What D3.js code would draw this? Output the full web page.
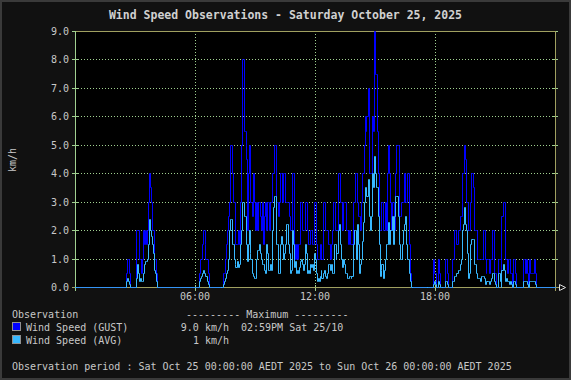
<!DOCTYPE html>
<html><head><meta charset="utf-8">
<script src="https://cdn.jsdelivr.net/npm/d3@7"></script>
<style>html,body{margin:0;padding:0;background:#111;}svg{display:block;}</style>
</head><body>
<script>
// ---- data ----
const titleText = "Wind Speed Observations - Saturday October 25, 2025";
const yUnit = "km/h";
const yTicks = [0,1,2,3,4,5,6,7,8,9];
const xTickHours = [6,12,18];
const xTickLabels = ["06:00","12:00","18:00"];
const stepMinutes = 3;
// 3-minute samples from 00:00 (480 values, 20 per row = 1 hour)
const gust = [
 0,0,0,0,0,0,0,0,0,0,0,0,0,0,0,0,0,0,0,0,
 0,0,0,0,0,0,0,0,0,0,0,0,0,0,0,0,0,0,0,0,
 0,0,0,0,0,0,0,0,0,0,0,0.5,1,1,0.5,0,0,0,0,0,
 0,2,2,2,1,1,0.5,1,2,1.5,2,1.5,2,3,4,3.5,3,2,2,1,
 1,0.5,0,0,0,0,0,0,0,0,0,0,0,0,0,0,0,0,0,0,
 0,0,0,0,0,0,0,0,0,0,0,0,0,0,0,0,0,0,0,0,
 0,0,0,0,0.5,1,1,1.5,2,2,1.5,1,1,0.5,0,0,0,0,0,0,
 0,0,0,0,0,0,0,0,0.5,0.5,1,1.5,2,2.5,3,5,5,4,3,3,
 2,1.5,1.5,2,1.5,3,5,8,8,5.5,5.5,4.5,2,4,5,3,3,2.5,4,3,
 2,3,2,3,3,2.5,2,3,1.5,2.5,3,2,3,3,2,3,3,4,4,5,
 5,3,3,2.5,3,4,4,3,4,4,3,3,3,3,2.5,2,2,4,4,1.5,
 1,1.5,1,1.5,1.5,3,3,2,2,2,3,3,2,1.5,1.5,2,2,1.5,1.5,3,
 3,1.5,1,1,1,1.5,1.5,1,3,3,2,2,2,1.5,1.5,1,1.5,2,3,3,
 2,2,2,4,4,3,3,2,3,3,3,2,2,1.5,2,1.5,1.5,1.5,3,3,
 4,4,3,2.5,2.5,2,3,4,4,5,6,5.5,6,7,4,4,4,6,5.5,9,
 7.5,7.5,5.5,4,2,2,2,3,2,2,3,2,4,5,4,3,2,3,3,2,
 4,4,5,5,2.5,2.5,3,3,3,4,3,3,4,4,1.5,0.5,0,0,0,0,
 0,0,0,0,0,0,0,0,0,0,0,0,0,0,0,0,0,0,1,0.5,
 0.5,0,0,1,0.5,0,0,0,0,0,1,1,0.5,0,0,0,0,1,1,2,
 2,1.5,1.5,2,2,2.5,2.5,4,4,5,4.5,3,3,2,2,3,3,4,3.5,2,
 2,2,1,1,1,1,1,1,2,2,1,0.5,1,1,0.5,1,1,2,2,0.5,
 0.5,0,0,1,1,1,0.5,2.5,3,3,1,1,0.5,1,1,0.5,0.5,0,1,1,
 0.5,0,0,0,0,0,0,0,1,1,0.5,1,0.5,0,1,0.5,0.5,0.5,0.5,1,
 0.5,0,0,0,0,0,0,0,0,0,0,0,0,0,0,0,0,0,0,0
];
const avg = [
 0,0,0,0,0,0,0,0,0,0,0,0,0,0,0,0,0,0,0,0,
 0,0,0,0,0,0,0,0,0,0,0,0,0,0,0,0,0,0,0,0,
 0,0,0,0,0,0,0,0,0,0,0,0.2,0.3,0.2,0.1,0,0,0,0,0,
 0,0.3,0.8,0.5,0.2,0.3,0.2,0.2,0.5,0.8,0.9,0.9,1.0,1.5,2.4,2.0,1.8,1.5,1.2,0.6,
 0.5,0.2,0,0,0,0,0,0,0,0,0,0,0,0,0,0,0,0,0,0,
 0,0,0,0,0,0,0,0,0,0,0,0,0,0,0,0,0,0,0,0,
 0,0,0,0,0.2,0.3,0.4,0.5,0.6,0.5,0.5,0.4,0.2,0.1,0,0,0,0,0,0,
 0,0,0,0,0,0,0,0,0.1,0.2,0.3,0.5,0.6,1.0,2.0,2.4,2.4,1.5,1.5,1.0,
 0.8,0.7,0.9,0.7,0.8,1.5,2.0,3.0,3.0,2.5,2.5,1.5,0.9,1.5,2.0,1.2,1.0,0.5,0.4,0.3,
 0.3,1.0,1.3,1.3,1.5,1.2,1.0,0.8,0.8,0.6,0.5,1.5,1.2,0.6,0.6,0.8,0.6,2.0,2.8,3.2,
 3.2,1.5,1.5,0.5,0.5,1.5,1.8,1.5,1.0,1.2,1.5,2.2,2.2,1.5,1.2,0.5,0.6,2.0,1.5,0.7,
 0.9,0.5,0.6,0.5,0.7,0.9,1.0,0.8,0.6,0.8,1.5,1.2,0.5,0.6,0.5,0.8,0.7,0.8,0.6,1.2,
 1.0,0.5,0.2,0.3,0.2,0.4,0.6,0.3,0.5,0.6,0.4,0.3,0.5,0.8,0.8,0.6,0.8,0.5,0.5,1.5,
 1.5,1.0,1.2,2.0,2.2,1.5,1.0,0.7,1.0,0.8,0.5,0.5,0.3,0.3,0.4,0.4,0.3,0.4,1.5,2.0,
 2.0,1.0,2.2,1.5,0.5,0.8,1.0,1.6,2.3,3.0,3.5,3.5,3.2,3.8,2.5,2.0,2.5,4.0,3.5,4.6,
 4.0,3.5,3.5,2.5,1.5,0.4,0.6,0.8,0.3,0.6,1.0,1.5,1.5,2.3,1.5,2.0,2.0,2.5,1.5,2.5,
 3.2,3.2,3.2,2.5,1.5,1.0,1.0,1.5,2.0,2.2,2.5,1.5,1.0,1.0,0.5,0.2,0,0,0,0,
 0,0,0,0,0,0,0,0,0,0,0,0,0,0,0,0,0,0,0.1,0.2,
 0.1,0,0,0.2,0.1,0,0,0,0,0,0.2,0.2,0.1,0,0,0,0,0.2,0.2,0.4,
 0.4,0.4,0.5,0.6,0.6,0.8,1.0,2.0,2.2,2.8,2.2,2.0,1.2,0.3,0.5,1.5,1.5,1.7,1.7,0.8,
 0.8,0.5,0.3,0.3,0.3,0.2,0.4,0.4,0.4,0.3,0.1,0.1,0.2,0.2,0.1,0.2,0.3,0.5,0.5,0.2,
 0.1,0,0,0.5,0.5,0.2,0,0.6,0.8,0.6,0.2,0.3,0.2,0.2,0.1,0.2,0.1,0,0.2,0.2,
 0.1,0,0,0,0,0,0,0,0.2,0.2,0.2,0.2,0.1,0,0.2,0.2,0.2,0.2,0.2,0.2,
 0.1,0,0,0,0,0,0,0,0,0,0,0,0,0,0,0,0,0,0,0
];
const legendNames = ["Wind Speed (GUST)","Wind Speed (AVG)"];
const legendMax = ["9.0 km/h","1 km/h"];
const legendWhen = ["02:59PM Sat 25/10",""];
const legendHeader = ["Observation","--------- Maximum ---------"];
const periodText = "Observation period : Sat Oct 25 00:00:00 AEDT 2025 to Sun Oct 26 00:00:00 AEDT 2025";

// ---- styles ----
const W = 571, H = 380;
const FONT = "'DejaVu Sans Mono', monospace";
const TXT = "#c8c8c8";
const GRID = "#a0d090";
const FRAME = "#a0a060";
const colGust = "#0000ff", colAvg = "#38b8ff";

const svg = d3.select("body").append("svg").attr("width", W).attr("height", H);
svg.append("rect").attr("x",0).attr("y",0).attr("width",W).attr("height",H).attr("fill","#111111");
svg.append("rect").attr("x",1).attr("y",1).attr("width",W-2).attr("height",H-2)
  .attr("fill","none").attr("stroke","#3a3a3a").attr("stroke-width",2);

const x = d3.scaleLinear().domain([0, 24*60]).range([75, 555]);
const y = d3.scaleLinear().domain([0, 9]).range([287.5, 31.5]);
const cx = v => Math.floor(v) + 0.5;
const cy = v => Math.floor(v) + 0.5;

// plot background
svg.append("rect").attr("x",75).attr("y",31).attr("width",481).attr("height",257).attr("fill","#000");

const g = svg.append("g").attr("shape-rendering","crispEdges");

// horizontal grid
yTicks.filter(v => v > 0 && v < 9).forEach(v => {
  g.append("line").attr("x1",75).attr("x2",555).attr("y1",cy(y(v))).attr("y2",cy(y(v)))
    .attr("stroke",GRID).attr("stroke-dasharray","1,2");
});
// vertical grid
xTickHours.forEach(h => {
  g.append("line").attr("x1",cx(x(h*60))).attr("x2",cx(x(h*60))).attr("y1",31).attr("y2",288)
    .attr("stroke",GRID).attr("stroke-dasharray","1,2");
  g.append("line").attr("x1",cx(x(h*60))).attr("x2",cx(x(h*60))).attr("y1",285).attr("y2",291)
    .attr("stroke",GRID);
});
// tick marks on y
yTicks.forEach(v => {
  g.append("line").attr("x1",72).attr("x2",78).attr("y1",cy(y(v))).attr("y2",cy(y(v))).attr("stroke",GRID);
  g.append("line").attr("x1",552).attr("x2",558).attr("y1",cy(y(v))).attr("y2",cy(y(v))).attr("stroke",GRID);
});
// frame lines
g.append("line").attr("x1",75).attr("x2",556).attr("y1",cy(y(9))).attr("y2",cy(y(9))).attr("stroke",FRAME);
g.append("line").attr("x1",cx(x(1440))).attr("x2",cx(x(1440))).attr("y1",31).attr("y2",291).attr("stroke",FRAME);
g.append("line").attr("x1",cx(x(0))).attr("x2",cx(x(0))).attr("y1",31).attr("y2",291).attr("stroke",GRID);
g.append("line").attr("x1",72).attr("x2",560).attr("y1",cy(y(0))).attr("y2",cy(y(0))).attr("stroke",FRAME);
// arrow
svg.append("path").attr("d","M559.5,284.5 L565.5,287.5 L559.5,290.5 Z")
  .attr("fill","none").attr("stroke","#e0e0e0").attr("stroke-width",1);

// data lines (pixel-aligned step lines)
function pts(arr){
  const p = arr.map((v,i)=>({t:i*stepMinutes, v}));
  p.push({t:24*60, v:arr[arr.length-1]});
  return p;
}
const line = d3.line().x(d => cx(x(d.t))).y(d => cy(y(d.v))).curve(d3.curveStepAfter);
const dg = svg.append("g");
dg.append("path").attr("d", line(pts(gust))).attr("fill","none").attr("stroke",colGust)
  .attr("stroke-width",1).attr("stroke-linejoin","miter").attr("stroke-linecap","square");
dg.append("path").attr("d", line(pts(avg))).attr("fill","none").attr("stroke",colAvg)
  .attr("stroke-width",1).attr("stroke-linejoin","miter").attr("stroke-linecap","square");

// title
svg.append("text").attr("x",W/2).attr("y",19).attr("text-anchor","middle")
  .attr("font-family",FONT).attr("font-size","11.5px").attr("font-weight","bold").attr("fill","#d0d0d0")
  .text(titleText);

// y labels
yTicks.forEach(v => {
  svg.append("text").attr("x",69).attr("y",y(v)+3.5).attr("text-anchor","end")
    .attr("font-family",FONT).attr("font-size","10px").attr("fill",TXT).text(v.toFixed(1));
});
// x labels
xTickHours.forEach((h,i) => {
  svg.append("text").attr("x",x(h*60)).attr("y",300).attr("text-anchor","middle")
    .attr("font-family",FONT).attr("font-size","10px").attr("fill",TXT).text(xTickLabels[i]);
});
// y unit
svg.append("text").attr("transform","translate(16,160) rotate(-90)").attr("text-anchor","middle")
  .attr("font-family",FONT).attr("font-size","10px").attr("fill",TXT).text(yUnit);

// legend
const lt = (xx,yy,t,anchor) => svg.append("text").attr("x",xx).attr("y",yy)
  .attr("text-anchor",anchor||"start").attr("font-family",FONT).attr("font-size","10px")
  .attr("fill",TXT).attr("xml:space","preserve").text(t);
lt(12,318,legendHeader[0]);
lt(186,318,legendHeader[1]);
const rowsY = [331,344];
const cols = [colGust,colAvg];
legendNames.forEach((n,i) => {
  svg.append("rect").attr("x",12.5).attr("y",rowsY[i]-8.5).attr("width",8).attr("height",8)
    .attr("fill",cols[i]).attr("stroke","#909090").attr("stroke-width",1);
  lt(26,rowsY[i],n);
  lt(229,rowsY[i],legendMax[i],"end");
  if (legendWhen[i]) lt(241,rowsY[i],legendWhen[i]);
});
lt(12,370,periodText);
</script>
</body></html>
